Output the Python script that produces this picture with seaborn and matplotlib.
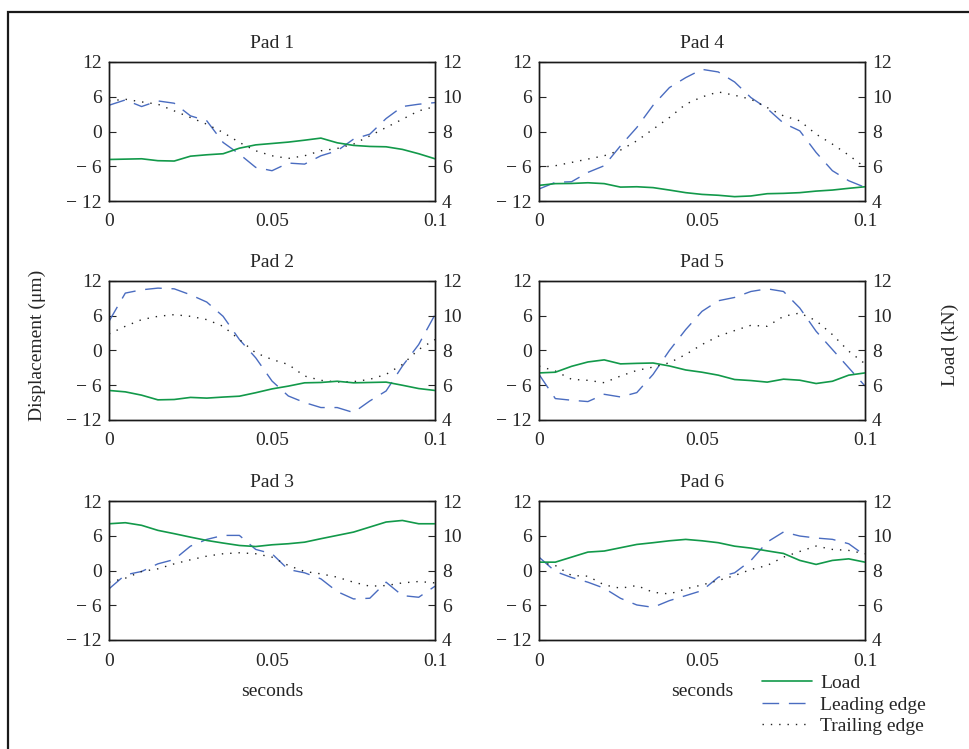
import numpy as np
import pandas as pd
import matplotlib
matplotlib.use("Agg")
import matplotlib.pyplot as plt
import seaborn as sns
from matplotlib.lines import Line2D
from matplotlib.patches import Rectangle

sns.set_style("white")
plt.rcParams['font.family'] = ['Liberation Serif', 'DejaVu Serif']
plt.rcParams['font.size'] = 14

# -------------------------------
# Data (time in s, displacement in um, load in kN)
# -------------------------------
t = [0.000, 0.005, 0.010, 0.015, 0.020, 0.025, 0.030, 0.035, 0.040, 0.045, 0.050,
     0.055, 0.060, 0.065, 0.070, 0.075, 0.080, 0.085, 0.090, 0.095, 0.100]

pad1_load = [6.39, 6.41, 6.43, 6.32, 6.30, 6.58, 6.66, 6.72, 7.04, 7.23, 7.31,
             7.39, 7.50, 7.62, 7.35, 7.20, 7.14, 7.12, 6.97, 6.72, 6.43]
pad1_lead = [4.53, 5.45, 4.31, 5.28, 4.88, 2.70, 1.84, -1.89, -3.90, -6.20, -6.77,
             -5.45, -5.63, -4.19, -3.33, -1.32, -0.46, 2.24, 4.31, 4.71, 4.99]
pad1_trail = [5.28, 5.57, 5.11, 4.71, 3.56, 2.41, 1.26, -0.17, -1.89, -3.33, -4.19,
              -4.65, -4.19, -3.33, -2.93, -2.18, -0.75, 0.69, 2.12, 3.56, 4.31]

pad2_load = [5.70, 5.62, 5.43, 5.16, 5.18, 5.30, 5.26, 5.32, 5.37, 5.57, 5.79,
             5.95, 6.14, 6.16, 6.23, 6.14, 6.16, 6.18, 6.00, 5.81, 5.70]
pad2_lead = [5.04, 9.91, 10.48, 10.77, 10.65, 9.62, 8.36, 5.90, 1.89, -1.26, -5.27,
             -7.85, -8.99, -9.85, -9.85, -10.71, -8.71, -6.99, -2.69, 1.03, 6.19]
pad2_trail = [2.86, 4.18, 5.33, 5.90, 6.19, 5.90, 5.33, 4.18, 1.89, -0.40, -1.55,
              -2.41, -4.41, -5.15, -5.44, -5.38, -4.98, -4.12, -2.41, 0.17, 1.89]

pad3_load = [10.69, 10.75, 10.60, 10.31, 10.12, 9.92, 9.73, 9.58, 9.44, 9.38, 9.48,
             9.54, 9.63, 9.83, 10.02, 10.21, 10.50, 10.79, 10.88, 10.69, 10.69]
pad3_lead = [-3.17, -0.75, -0.17, 1.15, 1.90, 4.21, 5.37, 6.06, 6.06, 3.64, 2.89,
             0.17, -0.40, -1.44, -3.64, -4.91, -4.79, -2.02, -4.33, -4.62, -2.71]
pad3_trail = [-2.02, -1.33, -0.17, 0.29, 1.15, 1.85, 2.48, 2.89, 3.06, 2.89, 2.31,
              0.87, -0.17, -0.58, -1.15, -2.02, -2.71, -2.60, -2.14, -1.90, -2.14]

pad4_load = [4.90, 5.00, 5.01, 5.05, 5.00, 4.80, 4.82, 4.77, 4.63, 4.48, 4.38,
             4.33, 4.25, 4.29, 4.42, 4.44, 4.48, 4.57, 4.63, 4.73, 4.82]
pad4_lead = [-9.93, -8.78, -8.67, -7.06, -5.91, -2.47, 0.69, 4.53, 7.58, 9.30, 10.73,
             10.28, 8.55, 5.86, 3.96, 1.44, 0.11, -3.62, -6.77, -8.50, -9.64]
pad4_trail = [-6.20, -5.91, -5.34, -4.76, -4.19, -3.21, -1.61, 0.40, 2.41, 4.71, 5.97,
              6.83, 6.26, 5.57, 4.13, 2.70, 1.84, -0.46, -2.18, -4.08, -6.20]

pad5_load = [6.71, 6.75, 7.09, 7.34, 7.46, 7.23, 7.26, 7.28, 7.11, 6.88, 6.75,
             6.58, 6.33, 6.27, 6.18, 6.35, 6.29, 6.10, 6.23, 6.58, 6.71]
pad5_lead = [-4.12, -8.30, -8.59, -8.82, -7.56, -8.02, -7.27, -4.12, 0.00, 3.61, 6.76,
             8.59, 9.16, 10.19, 10.65, 10.19, 7.33, 3.32, 0.17, -2.98, -6.13]
pad5_trail = [-2.69, -3.55, -4.98, -5.15, -5.56, -4.41, -3.44, -2.86, -2.12, -0.69, 1.03,
              2.46, 3.44, 4.35, 4.18, 5.90, 6.47, 5.15, 2.75, -0.11, -2.29]

pad6_load = [8.48, 8.48, 8.77, 9.06, 9.12, 9.31, 9.50, 9.60, 9.71, 9.79, 9.71,
             9.60, 9.40, 9.29, 9.13, 8.98, 8.58, 8.35, 8.58, 8.67, 8.48]
pad6_lead = [2.31, -0.17, -1.21, -2.02, -3.06, -4.80, -5.95, -6.36, -5.20, -4.34, -3.47,
             -1.16, -0.40, 1.73, 4.91, 6.65, 5.95, 5.61, 5.38, 4.62, 2.60]
pad6_trail = [1.45, 0.87, -0.87, -0.98, -2.49, -3.06, -2.60, -3.76, -4.05, -3.18, -2.49,
              -1.73, -0.87, 0.17, 0.87, 2.31, 3.29, 4.22, 3.64, 3.47, 2.89]

pads = {
    'Pad 1': (pad1_load, pad1_lead, pad1_trail),
    'Pad 2': (pad2_load, pad2_lead, pad2_trail),
    'Pad 3': (pad3_load, pad3_lead, pad3_trail),
    'Pad 4': (pad4_load, pad4_lead, pad4_trail),
    'Pad 5': (pad5_load, pad5_lead, pad5_trail),
    'Pad 6': (pad6_load, pad6_lead, pad6_trail),
}

green = '#12994a'
blue = '#4a6cc0'
dash_style = (0, (12, 7))
dot_style = (0, (1, 5))
fs = 14

# -------------------------------
# Figure layout (pixel positions of each panel)
# -------------------------------
W, H = 970, 749
fig = plt.figure(figsize=(W / 100, H / 100), dpi=100)
fig.patch.set_facecolor('white')
fig.add_artist(Rectangle((8 / W, -0.05), 1.1, 1 - 12 / H + 0.05,
                         transform=fig.transFigure, fill=False,
                         edgecolor='#1a1a1a', linewidth=1.6))

col_left = [109, 539]
row_top = [62, 281, 501]
ax_w, ax_h = 326, 139
order = [['Pad 1', 'Pad 4'], ['Pad 2', 'Pad 5'], ['Pad 3', 'Pad 6']]

for r in range(3):
    for c in range(2):
        name = order[r][c]
        load, lead, trail = pads[name]
        x0 = col_left[c] / W
        y0 = 1 - (row_top[r] + ax_h) / H
        ax = fig.add_axes([x0, y0, ax_w / W, ax_h / H])
        ax2 = ax.twinx()

        df = pd.DataFrame({'t': t, 'lead': lead, 'trail': trail, 'load': load})
        sns.lineplot(data=df, x='t', y='lead', ax=ax, color=blue, linewidth=1.0,
                     linestyle=dash_style)
        sns.lineplot(data=df, x='t', y='trail', ax=ax, color='#222222', linewidth=1.0,
                     linestyle=dot_style)
        sns.lineplot(data=df, x='t', y='load', ax=ax2, color=green, linewidth=1.2)

        ax.set_xlim(0, 0.1)
        ax.set_ylim(-12, 12)
        ax2.set_ylim(4, 12)
        ax.set_xticks([0, 0.05, 0.1])
        ax.set_xticklabels(['0', '0.05', '0.1'])
        ax.set_yticks([-12, -6, 0, 6, 12])
        ax.set_yticklabels(['\u2212 12', '\u2212 6', '0', '6', '12'])
        ax2.set_yticks([4, 6, 8, 10, 12])
        ax2.set_yticklabels(['4', '6', '8', '10', '12'])
        ax.set_xlabel('')
        ax.set_ylabel('')
        ax2.set_ylabel('')
        ax.set_title(name, fontsize=fs, pad=10)

        for a in (ax, ax2):
            a.tick_params(direction='in', length=5, width=0.8, labelsize=fs, pad=5)
            for s in a.spines.values():
                s.set_color('#1a1a1a')
                s.set_linewidth(1.0)
        ax.tick_params(axis='x', pad=9)

        if r == 2:
            ax.set_xlabel('seconds', fontsize=fs, labelpad=10)

fig.text(37 / W, 1 - 345 / H, 'Displacement (\u03bcm)', rotation=90,
         ha='center', va='center', fontsize=fs)
fig.text(950 / W, 1 - 345 / H, 'Load (kN)', rotation=90,
         ha='center', va='center', fontsize=fs)

handles = [
    Line2D([], [], color=green, linewidth=1.2),
    Line2D([], [], color=blue, linewidth=1.0, linestyle=dash_style),
    Line2D([], [], color='#222222', linewidth=1.0, linestyle=dot_style),
]
fig.legend(handles, ['Load', 'Leading edge', 'Trailing edge'],
           loc='upper left', bbox_to_anchor=(748 / W, 1 - 661 / H),
           frameon=False, fontsize=fs, handlelength=2.6, handletextpad=0.4,
           labelspacing=0.2, borderpad=0.2)

fig.savefig('out.png', dpi=100, facecolor='white')
